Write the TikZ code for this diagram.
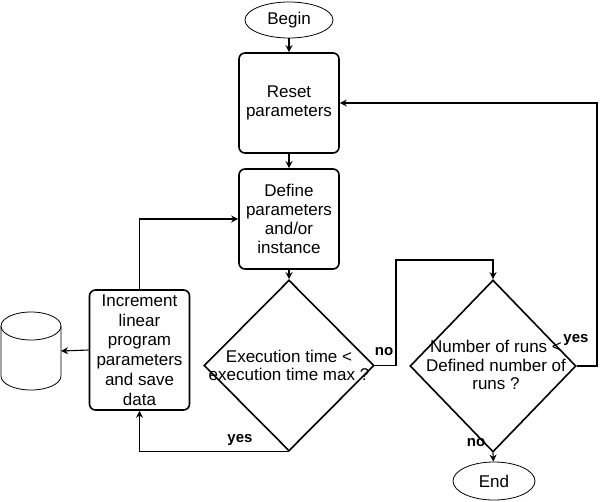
\documentclass[tikz,border=0pt]{standalone}
\usepackage{fontspec}
\setmainfont{Liberation Sans}
\usetikzlibrary{shapes.geometric,arrows.meta}

\begin{document}
\begin{tikzpicture}[x=1pt,y=-1pt,
  font=\fontsize{17}{18.8}\selectfont,
  >={Stealth[length=7pt,width=7pt]},
  box/.style={draw, line width=1.6pt, rounded corners=6pt, minimum width=100pt, minimum height=100pt, inner sep=0pt, align=center},
  term/.style={draw, ellipse, line width=0.8pt, inner sep=0pt},
  test/.style={draw, diamond, line width=1.6pt, inner sep=0pt},
  line/.style={line width=1.1pt},
  lbl/.style={font=\fontsize{15}{17}\selectfont\bfseries}]

\useasboundingbox (0,0) rectangle (605,501);

\coordinate (P1) at (396,260);
\coordinate (P2) at (597,103);
\coordinate (db) at (61,351);

\node [term, minimum width=88pt, minimum height=36pt] (begin) at (289,20) {Begin};
\node [box] (reset) at (289,103) {Reset\\parameters};
\node [box] (define) at (289,219) {Define\\parameters\\and/or\\instance};
\node [box, minimum height=120pt, font=\fontsize{17}{19.8}\selectfont] (incr) at (139.5,350) {Increment\\linear\\program\\parameters\\and save\\data};
\node [test, minimum width=170pt, minimum height=171pt] (time) at (289,365.5) {};
\node [align=center] (timetxt) at (289,365.5) {Execution time <\\execution time max ?};
\node [test, minimum width=166pt, minimum height=172pt] (runs) at (493,366) {};
\node [align=center] (runstxt) at (496,365) {Number of runs <\\Defined number of\\runs ?};
\node [term, minimum width=82pt, minimum height=38pt] (end) at (494,481) {End};

% database
\draw [line width=0.8pt] (1,326) -- (1,376) arc[start angle=180, end angle=0, x radius=30, y radius=14] -- (61,326);
\draw [line width=0.8pt] (31,326) ellipse [x radius=30, y radius=14];

\draw [line, ->] (begin) -- (reset);
\draw [line, ->] (reset) -- (define);
\draw [line, ->] (define) -- (time.north);
\draw [line, ->] (time.east) -| (P1) -| (runs.north);
\draw [line, ->] (time.south) -| (incr.south);
\draw [line, ->] (incr.north) |- (define.west);
\draw [line, ->] (incr.west) -- (db);
\draw [line, ->] (runs.east) -| (P2) -- (reset.east);
\draw [line, ->] (runs.south) -- (end);

\node [lbl] at (384,352) {no};
\node [lbl] at (240,440) {yes};
\node [lbl] at (576,340) {yes};
\node [lbl] at (476,443) {no};

\end{tikzpicture}
\end{document}
